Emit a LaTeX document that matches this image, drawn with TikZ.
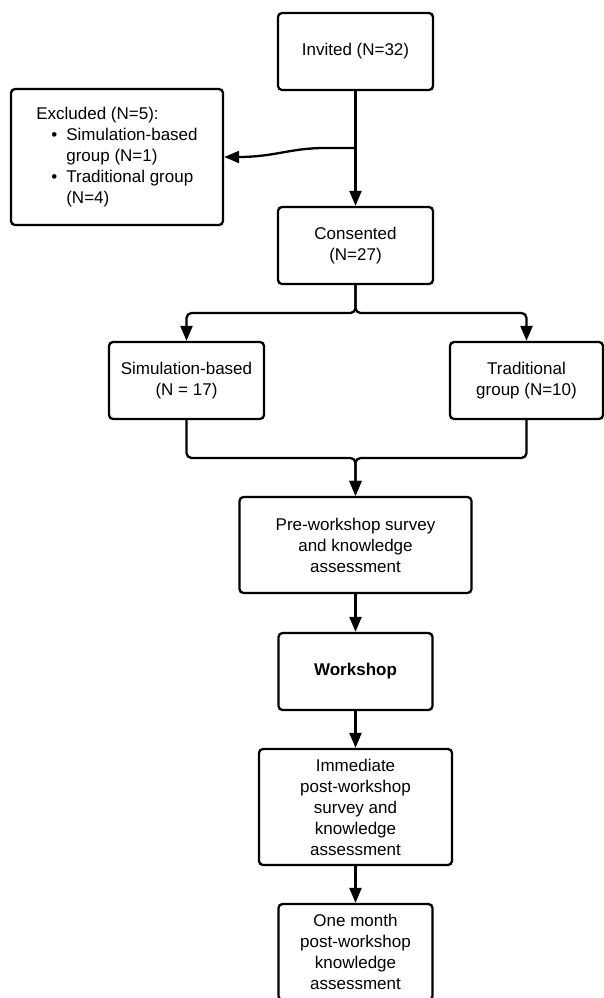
\documentclass[tikz,border=0pt]{standalone}
\usepackage{fontspec}
\setmainfont{Liberation Sans}
\usetikzlibrary{arrows.meta}
\begin{document}
\begin{tikzpicture}[x=1pt,y=-1pt,
  box/.style={draw, line width=2.3pt, rounded corners=4pt, align=center, inner sep=0pt,
              font=\fontsize{17}{21}\selectfont},
  arr/.style={line width=2.3pt, -{Triangle[length=15pt,width=12pt]}}]
\useasboundingbox (0,0) rectangle (604,998);
\clip (0,0) rectangle (604,998);
\node[box, minimum width=155pt, minimum height=77pt] (invited) at (355.5,51.5) {Invited (N=32)};
\node[box, minimum width=212pt, minimum height=136pt, align=left] (excluded) at (117,157)
  {Excluded (N=5):\\
   \hspace*{15pt}\makebox[15pt][l]{•}Simulation-based\\
   \hspace*{30pt}group (N=1)\\
   \hspace*{15pt}\makebox[15pt][l]{•}Traditional group\\
   \hspace*{30pt}(N=4)};
\node[box, minimum width=155pt, minimum height=77pt] (consented) at (355.5,245.5) {Consented\\(N=27)};
\node[box, minimum width=155pt, minimum height=77pt] (sim) at (186.5,380.5) {Simulation-based\\(N = 17)};
\node[box, minimum width=153pt, minimum height=77pt] (trad) at (526.5,380.5) {Traditional\\group (N=10)};
\node[box, minimum width=232pt, minimum height=96pt] (pre) at (355.5,545) {Pre-workshop survey\\and knowledge\\assessment};
\node[box, minimum width=154pt, minimum height=77pt, font=\fontsize{17}{21}\selectfont\bfseries] (workshop) at (355.5,671.5) {Workshop};
\node[box, minimum width=193pt, minimum height=116pt] (immediate) at (355.5,807) {Immediate\\post-workshop\\survey and\\knowledge\\assessment};
\node[box, minimum width=154pt, minimum height=96pt] (onemonth) at (355.5,952) {One month\\post-workshop\\knowledge\\assessment};

\draw[arr] (invited.south) -- (consented.north);
\coordinate (b) at (355.5,148);
\draw[arr] (b) -- (325,148) .. controls (290,148) and (275,157) .. (238,157) -- (excluded.east);

\coordinate (s) at (355.5,313);
\draw[arr, rounded corners=5pt] (consented.south) -- (s) -| (sim.north);
\draw[arr, rounded corners=5pt] (consented.south) -- (s) -| (trad.north);
\coordinate (j) at (355.5,458);
\draw[arr, rounded corners=5pt] (sim.south) |- (j) -- (pre.north);
\draw[arr, rounded corners=5pt] (trad.south) |- (j) -- (pre.north);

\draw[arr] (pre.south) -- (workshop.north);
\draw[arr] (workshop.south) -- (immediate.north);
\draw[arr] (immediate.south) -- (onemonth.north);
\end{tikzpicture}
\end{document}
